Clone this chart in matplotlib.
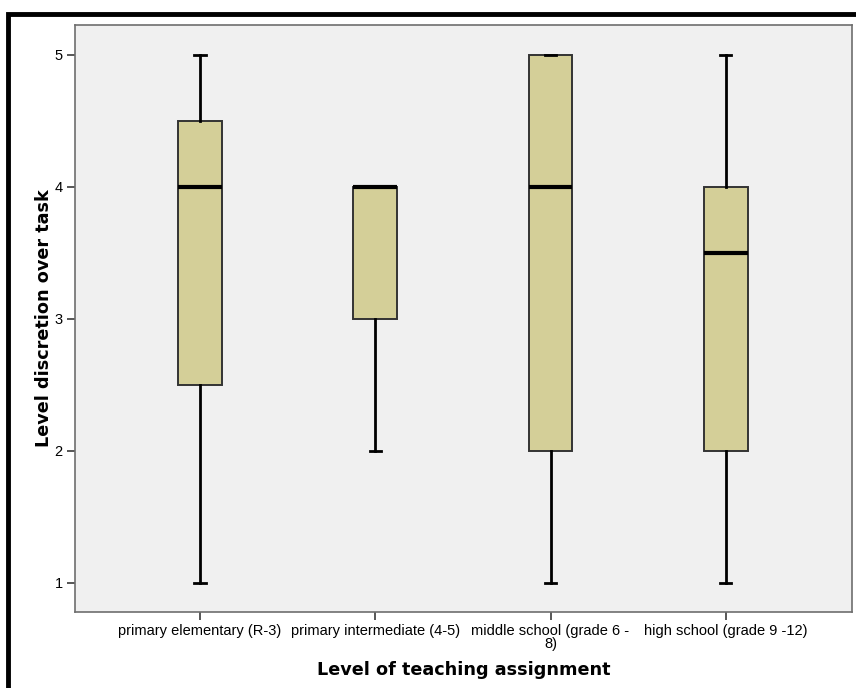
import matplotlib.pyplot as plt
from matplotlib.patches import Rectangle

# five-number summaries per teaching level
categories = [
    "primary elementary (R-3)",
    "primary intermediate (4-5)",
    "middle school (grade 6 -\n8)",
    "high school (grade 9 -12)",
]
whisker_low = [1, 2, 1, 1]
q1 = [2.5, 3, 2, 2]
median = [4, 4, 4, 3.5]
q3 = [4.5, 4, 5, 4]
whisker_high = [5, 4, 5, 5]

plt.rcParams["font.family"] = ["Liberation Sans", "DejaVu Sans"]

fig = plt.figure(figsize=(8.56, 6.88), dpi=100)
ax = fig.add_axes([75 / 856, 1 - 612 / 688, 777 / 856, 587 / 688])

stats = [
    {"whislo": lo, "q1": a, "med": m, "q3": b, "whishi": hi, "fliers": []}
    for lo, a, m, b, hi in zip(whisker_low, q1, median, q3, whisker_high)
]
ax.bxp(
    stats,
    positions=range(len(categories)),
    widths=0.25,
    patch_artist=True,
    showfliers=False,
    boxprops=dict(facecolor="#d4cf98", edgecolor="#333333", linewidth=1.4),
    medianprops=dict(color="black", linewidth=3),
    whiskerprops=dict(color="black", linewidth=2),
    capprops=dict(color="black", linewidth=2),
    capwidths=0.065,
)

ax.set_facecolor("#f0f0f0")
for spine in ax.spines.values():
    spine.set_color("#6e6e6e")
    spine.set_linewidth(1.2)

ax.set_xlim(-0.713, 3.72)
ax.set_ylim(0.78, 5.227)
ax.set_yticks([1, 2, 3, 4, 5])
ax.set_xticks(range(len(categories)))
ax.set_xticklabels(categories, fontsize=10.5, linespacing=0.85)
ax.tick_params(axis="both", length=6, width=1.2, color="#3a3a3a",
               labelsize=10.5, pad=3)

ax.set_xlabel("Level of teaching assignment", fontsize=12.7,
              fontweight="bold", family="DejaVu Sans", labelpad=7)
ax.set_ylabel("Level discretion over task", fontsize=12.7,
              fontweight="bold", family="DejaVu Sans", labelpad=1)

# outer frame around the chart
fig.patches.append(Rectangle((8 / 856, -0.1), 1.2, 1.1 - 14 / 688,
                             transform=fig.transFigure, fill=False,
                             edgecolor="black", linewidth=3.5))

fig.savefig("out.png", dpi=100)
